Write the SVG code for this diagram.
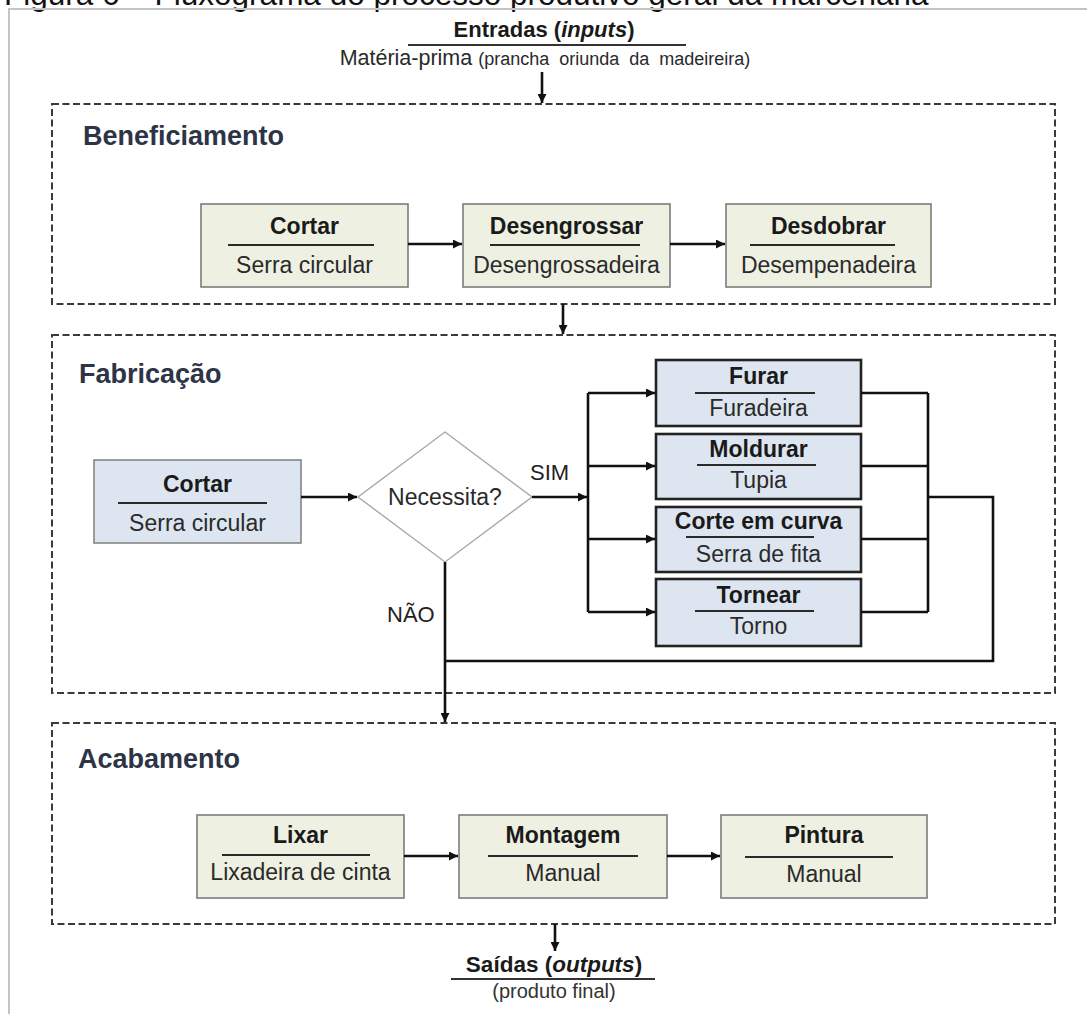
<svg xmlns="http://www.w3.org/2000/svg" width="1087" height="1014" viewBox="0 0 1087 1014">
<style>
text{font-family:"Liberation Sans",Arial,sans-serif;}
.cap{font-size:31.5px;fill:#111;}
.frame{stroke:#c4c4c4;stroke-width:2;fill:none;}
.sec{fill:none;stroke:#3a3a3a;stroke-width:2;stroke-dasharray:7 3.5;}
.stitle{font-size:27px;font-weight:bold;fill:#2d3446;}
.beige{fill:#eef0e1;stroke:#7c7c7c;stroke-width:1.6;}
.blue{fill:#dde5f0;stroke:#858585;stroke-width:1.6;}
.blueb{fill:#dde5f0;stroke:#222;stroke-width:2.6;}
.t{font-size:23px;font-weight:bold;fill:#1a1a1a;text-anchor:middle;}
.s{font-size:23px;fill:#2a2a2a;text-anchor:middle;}
.sep{stroke:#2a2a2a;stroke-width:1.8;}
.con{fill:none;stroke:#111;stroke-width:2.6;}
.arr{fill:none;stroke:#111;stroke-width:2.6;marker-end:url(#ah);}
.lbl{font-size:22px;fill:#222;}
</style>
<defs>
<marker id="ah" viewBox="0 0 10 10" refX="10" refY="5" markerWidth="10" markerHeight="9" markerUnits="userSpaceOnUse" orient="auto">
<path d="M0,0 L10,5 L0,10 z" fill="#111"/>
</marker>
</defs>
<rect x="0" y="0" width="1087" height="1014" fill="#fff"/>
<text class="cap" x="4" y="5">Figura 6 – Fluxograma do processo produtivo geral da marcenaria</text>
<path class="frame" d="M9,1014 V9 H1087"/>

<g id="entradas">
<text x="544" y="37" text-anchor="middle" style="font-size:22px;font-weight:bold;fill:#1a1a1a">Entradas (<tspan font-style="italic">inputs</tspan>)</text>
<line x1="408" y1="45" x2="686" y2="45" stroke="#333" stroke-width="2"/>
<text x="545" y="65" text-anchor="middle" style="fill:#2a2a2a"><tspan style="font-size:21.5px">Matéria-prima </tspan><tspan style="font-size:18px" word-spacing="5">(prancha oriunda da madeireira)</tspan></text>
</g>

<g id="beneficiamento">
<rect class="sec" x="52" y="104" width="1003" height="200"/>
<text class="stitle" x="83" y="145">Beneficiamento</text>
</g>
<g id="b-cortar">
<rect class="beige" x="201" y="204" width="207" height="83"/>
<text class="t" x="304.5" y="234">Cortar</text>
<line class="sep" x1="228" y1="245" x2="374" y2="245"/>
<text class="s" x="304.5" y="273">Serra circular</text>
</g>
<g id="b-desengrossar">
<rect class="beige" x="463" y="204" width="207" height="83"/>
<text class="t" x="566.5" y="234">Desengrossar</text>
<line class="sep" x1="490" y1="245" x2="640" y2="245"/>
<text class="s" x="566.5" y="273">Desengrossadeira</text>
</g>
<g id="b-desdobrar">
<rect class="beige" x="726" y="204" width="205" height="83"/>
<text class="t" x="828.5" y="234">Desdobrar</text>
<line class="sep" x1="750" y1="245" x2="895" y2="245"/>
<text class="s" x="828.5" y="273">Desempenadeira</text>
</g>

<g id="fabricacao">
<rect class="sec" x="52" y="335" width="1003" height="358"/>
<text class="stitle" x="79" y="383">Fabricação</text>
</g>
<g id="f-cortar">
<rect class="blue" x="94" y="460" width="207" height="83"/>
<text class="t" x="197.5" y="492">Cortar</text>
<line class="sep" x1="118" y1="503" x2="267" y2="503"/>
<text class="s" x="197.5" y="531">Serra circular</text>
</g>
<g id="f-necessita">
<polygon points="445,432 532,497 445,562 358,497" fill="#fff" stroke="#a8a8a8" stroke-width="1.4"/>
<text class="s" x="445" y="505">Necessita?</text>
</g>
<g id="f-furar">
<rect class="blueb" x="656" y="360" width="205" height="66"/>
<text class="t" x="758.5" y="384">Furar</text>
<line class="sep" x1="695" y1="393" x2="815" y2="393"/>
<text class="s" x="758.5" y="416">Furadeira</text>
</g>
<g id="f-moldurar">
<rect class="blueb" x="656" y="434" width="205" height="65"/>
<text class="t" x="758.5" y="457">Moldurar</text>
<line class="sep" x1="697" y1="465" x2="816" y2="465"/>
<text class="s" x="758.5" y="488">Tupia</text>
</g>
<g id="f-corte-curva">
<rect class="blueb" x="656" y="507" width="205" height="65"/>
<text class="t" x="758.5" y="529">Corte em curva</text>
<line class="sep" x1="686" y1="537" x2="814" y2="537"/>
<text class="s" x="758.5" y="562">Serra de fita</text>
</g>
<g id="f-tornear">
<rect class="blueb" x="656" y="579" width="205" height="67"/>
<text class="t" x="758.5" y="603">Tornear</text>
<line class="sep" x1="695" y1="611" x2="814" y2="611"/>
<text class="s" x="758.5" y="634">Torno</text>
</g>

<g id="acabamento">
<rect class="sec" x="52" y="723" width="1003" height="201"/>
<text class="stitle" x="78" y="768">Acabamento</text>
</g>
<g id="a-lixar">
<rect class="beige" x="197" y="815" width="207" height="83"/>
<text class="t" x="300.5" y="843">Lixar</text>
<line class="sep" x1="222" y1="855" x2="370" y2="855"/>
<text class="s" x="300.5" y="880">Lixadeira de cinta</text>
</g>
<g id="a-montagem">
<rect class="beige" x="459" y="815" width="208" height="83"/>
<text class="t" x="563" y="843">Montagem</text>
<line class="sep" x1="488" y1="856" x2="638" y2="856"/>
<text class="s" x="563" y="881">Manual</text>
</g>
<g id="a-pintura">
<rect class="beige" x="721" y="815" width="206" height="83"/>
<text class="t" x="824" y="843">Pintura</text>
<line class="sep" x1="745" y1="857" x2="893" y2="857"/>
<text class="s" x="824" y="882">Manual</text>
</g>

<g id="saidas">
<text x="554" y="972" text-anchor="middle" style="font-size:22.5px;font-weight:bold;fill:#1a1a1a">Saídas (<tspan font-style="italic">outputs</tspan>)</text>
<line x1="451" y1="979" x2="655" y2="979" stroke="#333" stroke-width="2"/>
<text x="554" y="998" text-anchor="middle" style="font-size:20px;fill:#333">(produto final)</text>
</g>

<g id="connectors">
<line class="arr" x1="542" y1="72" x2="542" y2="103"/>
<line class="arr" x1="408" y1="244" x2="462" y2="244"/>
<line class="arr" x1="670" y1="244" x2="725" y2="244"/>
<line class="arr" x1="563" y1="304" x2="563" y2="334"/>
<line class="arr" x1="301" y1="497" x2="357" y2="497"/>
<line class="arr" x1="532" y1="497" x2="587" y2="497"/>
<path class="con" d="M588,393 V612"/>
<line class="arr" x1="588" y1="393" x2="655" y2="393"/>
<line class="arr" x1="588" y1="466" x2="655" y2="466"/>
<line class="arr" x1="588" y1="539" x2="655" y2="539"/>
<line class="arr" x1="588" y1="612" x2="655" y2="612"/>
<path class="con" d="M861,393 H928 M861,466 H928 M861,539 H928 M861,612 H928 M928,393 V612"/>
<path class="con" d="M928,497 H993 V661 H445"/>
<line class="arr" x1="445" y1="562" x2="445" y2="722"/>
<text class="lbl" x="530" y="480">SIM</text>
<text class="lbl" x="387" y="622">NÃO</text>
<line class="arr" x1="404" y1="856" x2="458" y2="856"/>
<line class="arr" x1="667" y1="856" x2="720" y2="856"/>
<line class="arr" x1="555" y1="924" x2="555" y2="951"/>
</g>
</svg>
